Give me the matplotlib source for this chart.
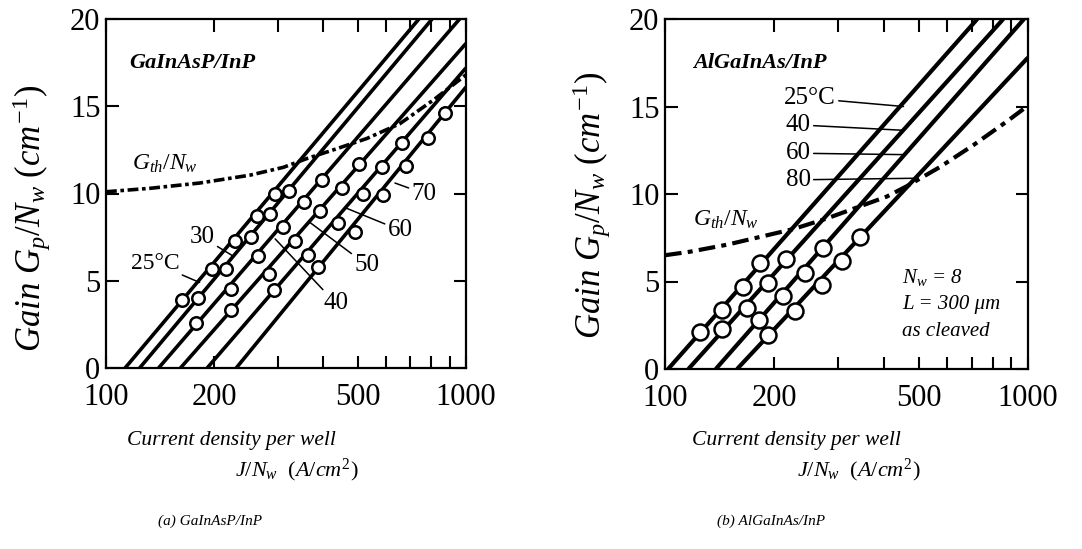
import numpy as np
import matplotlib
matplotlib.use("Agg")
import matplotlib.pyplot as plt
from matplotlib.ticker import FixedLocator, NullFormatter

plt.rcParams["font.family"] = "Liberation Serif"
plt.rcParams["mathtext.fontset"] = "custom"
plt.rcParams["mathtext.rm"] = "Liberation Serif"
plt.rcParams["mathtext.it"] = "Liberation Serif:italic"
plt.rcParams["mathtext.bf"] = "Liberation Serif:bold"

# ---- (a) GaInAsP/InP ----
temps_a = ["25", "30", "40", "50", "60", "70"]
line_j0_a = [113, 124, 140, 161, 191, 230]          # J where G = 0
line_j1_a = [740, 805, 960, 1000, 1000, 1000]        # J at upper end
line_g1_a = [20.0, 20.0, 20.0, 18.6, 17.2, 16.1]     # G at upper end

pts_j_a = [
    [163, 197, 228, 262, 294],
    [180, 216, 252, 286, 323],
    [178, 223, 265, 311, 355, 399],
    [223, 284, 335, 393, 452, 506],
    [292, 365, 442, 518, 583, 663],
    [389, 492, 589, 681, 785, 874],
]
pts_g_a = [
    [3.9, 5.7, 7.3, 8.7, 10.0],
    [4.0, 5.7, 7.5, 8.8, 10.15],
    [2.6, 4.5, 6.4, 8.1, 9.5, 10.8],
    [3.35, 5.4, 7.3, 9.0, 10.3, 11.7],
    [4.45, 6.5, 8.3, 10.0, 11.5, 12.9],
    [5.8, 7.8, 9.9, 11.6, 13.2, 14.6],
]
gth_j_a = [100, 133, 182, 251, 311, 361, 428, 530, 655, 811, 1000]
gth_g_a = [10.1, 10.3, 10.6, 11.05, 11.5, 12.0, 12.5, 13.15, 14.0, 15.35, 16.8]

# ---- (b) AlGaInAs/InP ----
temps_b = ["25", "40", "60", "80"]
line_j0_b = [102, 116, 138, 158]
line_j1_b = [725, 855, 975, 1000]
line_g1_b = [20.0, 20.0, 20.0, 17.8]

pts_j_b = [
    [125, 144, 164, 183],
    [144, 168, 192, 216],
    [181, 212, 243, 273],
    [192, 228, 270, 307, 345],
]
pts_g_b = [
    [2.1, 3.35, 4.7, 6.05],
    [2.3, 3.5, 4.9, 6.3],
    [2.8, 4.15, 5.5, 6.9],
    [1.95, 3.3, 4.8, 6.15, 7.55],
]
gth_j_b = [100, 117, 148, 183, 226, 279, 345, 408, 464, 573, 708, 875, 1000]
gth_g_b = [6.5, 6.7, 7.1, 7.55, 8.0, 8.6, 9.3, 9.85, 10.45, 11.55, 12.8, 14.15, 15.05]

W, H = 1082, 549
fig = plt.figure(figsize=(W / 100, H / 100), dpi=100)


def px_axes(x0, y0, x1, y1):
    return fig.add_axes([x0 / W, 1 - y1 / H, (x1 - x0) / W, (y1 - y0) / H])


def style_axes(ax):
    ax.set_xscale("log")
    ax.set_xlim(100, 1000)
    ax.set_ylim(0, 20)
    ax.xaxis.set_major_locator(FixedLocator([100, 200, 500, 1000]))
    ax.xaxis.set_minor_locator(FixedLocator([300, 400, 600, 700, 800, 900]))
    ax.xaxis.set_major_formatter(plt.FuncFormatter(lambda v, p: f"{v:g}"))
    ax.xaxis.set_minor_formatter(NullFormatter())
    ax.set_yticks([0, 5, 10, 15, 20])
    ax.tick_params(which="both", direction="in", top=True, right=True,
                   length=9, width=1.5, labelsize=22)
    ax.tick_params(axis="x", which="major", pad=11)
    ax.tick_params(axis="y", which="major", pad=4)
    for s in ax.spines.values():
        s.set_linewidth(1.6)


def draw_panel(ax, j0, j1, g1, pj, pg, gj, gg, lw, ms, dash):
    for a, b, g in zip(j0, j1, g1):
        ax.plot([a, b], [0, g], color="black", lw=lw, solid_capstyle="butt", zorder=2)
    for xs, ys in zip(pj, pg):
        ax.plot(xs, ys, "o", ms=ms, mfc="white", mec="black", mew=1.8, zorder=4)
    ax.plot(gj, gg, color="black", lw=lw, linestyle=dash, zorder=3)


# ---------- panel (a) ----------
ax1 = px_axes(106, 19, 466, 368)
style_axes(ax1)
draw_panel(ax1, line_j0_a, line_j1_a, line_g1_a, pts_j_a, pts_g_a,
           gth_j_a, gth_g_a, 2.6, 9, (0, (3, 1, 1, 1)))

ax1.text(116, 17.45, "GaInAsP/InP", fontsize=16, fontweight="bold", style="italic",
         ha="left", va="center")
ax1.text(118, 11.7, r"$G_{th}/N_w$", fontsize=17, ha="left", va="center")

lead = dict(arrowstyle="-", color="black", lw=1.1, shrinkA=0, shrinkB=0)
ax1.annotate("25°C", xy=(182, 4.9), xytext=(137, 6.0), fontsize=17,
             ha="center", va="center", arrowprops=lead)
ax1.annotate("30", xy=(226, 6.4), xytext=(185, 7.5), fontsize=18,
             ha="center", va="center", arrowprops=lead)
ax1.annotate("40", xy=(295, 7.4), xytext=(435, 3.7), fontsize=18,
             ha="center", va="center", arrowprops=lead)
ax1.annotate("50", xy=(368, 8.35), xytext=(530, 5.9), fontsize=18,
             ha="center", va="center", arrowprops=lead)
ax1.annotate("60", xy=(465, 9.16), xytext=(656, 7.9), fontsize=18,
             ha="center", va="center", arrowprops=lead)
ax1.annotate("70", xy=(635, 10.6), xytext=(764, 10.0), fontsize=18,
             ha="center", va="center", arrowprops=lead)

# ---------- panel (b) ----------
ax2 = px_axes(665, 19, 1028, 369)
style_axes(ax2)
draw_panel(ax2, line_j0_b, line_j1_b, line_g1_b, pts_j_b, pts_g_b,
           gth_j_b, gth_g_b, 3.0, 11.5, (0, (4, 1.5, 1.2, 1.5)))

ax2.text(119.5, 17.47, "AlGaInAs/InP", fontsize=16, fontweight="bold", style="italic",
         ha="left", va="center")
ax2.text(119.5, 8.5, r"$G_{th}/N_w$", fontsize=17, ha="left", va="center")
ax2.annotate("25°C", xy=(454, 15.0), xytext=(251, 15.47), fontsize=18,
             ha="center", va="center", arrowprops=lead)
ax2.annotate("40", xy=(454, 13.64), xytext=(233, 13.95), fontsize=18,
             ha="center", va="center", arrowprops=lead)
ax2.annotate("60", xy=(454, 12.25), xytext=(233, 12.33), fontsize=18,
             ha="center", va="center", arrowprops=lead)
ax2.annotate("80", xy=(489, 10.9), xytext=(233, 10.81), fontsize=18,
             ha="center", va="center", arrowprops=lead)
ax2.text(449, 5.2, r"$N_w$ = 8", fontsize=15, style="italic", ha="left", va="center")
ax2.text(449, 3.67, "L = 300 μm", fontsize=15, style="italic", ha="left", va="center")
ax2.text(449, 2.15, "as cleaved", fontsize=15, style="italic", ha="left", va="center")

# ---------- axis labels and captions ----------
ylab = r"Gain $G_p/N_w$ $(cm^{-1})$"
fig.text(32 / W, 1 - 218 / H, ylab, rotation=90, fontsize=25, style="italic",
         ha="center", va="center")
fig.text(592 / W, 1 - 205 / H, ylab, rotation=90, fontsize=25, style="italic",
         ha="center", va="center")

for cx1, cx2, cap_x, cap in [(231, 297, 210, "(a) GaInAsP/InP"),
                             (796, 859, 771, "(b) AlGaInAs/InP")]:
    fig.text(cx1 / W, 1 - 440 / H, "Current density per well", fontsize=15.5,
             style="italic", ha="center", va="center")
    fig.text(cx2 / W, 1 - 470 / H, r"$J/N_w$  $(A/cm^2)$", fontsize=16,
             ha="center", va="center")
    fig.text(cap_x / W, 1 - 521 / H, cap, fontsize=11, style="italic",
             ha="center", va="center")

fig.savefig("out.png", dpi=100)
